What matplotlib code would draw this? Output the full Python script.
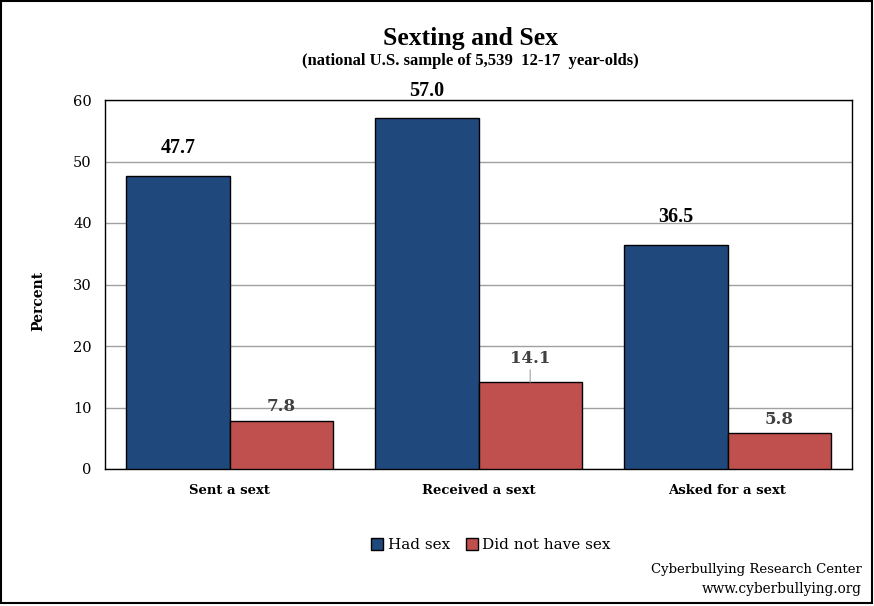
import matplotlib
matplotlib.use("Agg")
import matplotlib.pyplot as plt
from matplotlib.patches import Rectangle
import numpy as np

categories = ["Sent a sext", "Received a sext", "Asked for a sext"]
had_sex = [47.7, 57.0, 36.5]
no_sex = [7.8, 14.1, 5.8]
series_names = ["Had sex", "Did not have sex"]
yticks = [0, 10, 20, 30, 40, 50, 60]

BLUE = "#1F497D"
RED = "#C0504D"
SERIF = ["DejaVu Serif"]
LSERIF = ["Liberation Serif"]

fig = plt.figure(figsize=(8.74, 6.06), dpi=100)
W, H = 874, 606
ax = fig.add_axes([105 / W, 1 - 469 / H, 747 / W, 369 / H])

x = np.arange(len(categories))
bw = 0.415
b1 = ax.bar(x - bw / 2, had_sex, bw, color=BLUE, edgecolor="black", linewidth=1.0, zorder=3)
b2 = ax.bar(x + bw / 2, no_sex, bw, color=RED, edgecolor="black", linewidth=1.0, zorder=3)

ax.set_xlim(-0.5, 2.5)
ax.set_ylim(0, 60)
ax.set_yticks(yticks)
ax.set_yticklabels([str(v) for v in yticks], fontfamily=SERIF, fontsize=10.5)
ax.set_xticks(x)
ax.set_xticklabels(categories, fontfamily=SERIF, fontsize=9.5, fontweight="bold")
ax.tick_params(axis="both", length=0)
ax.tick_params(axis="y", pad=9.5)
ax.tick_params(axis="x", pad=10.5)
ax.grid(axis="y", color="#A0A0A0", linewidth=1.0, zorder=0)
for s in ax.spines.values():
    s.set_color("black")
    s.set_linewidth(1.0)

fig.text(38 / W, 1 - 301 / H, "Percent", rotation=90, ha="center", va="center",
         fontfamily=SERIF, fontsize=10, fontweight="bold")

# value labels
for i, v in enumerate(had_sex):
    ax.annotate(f"{v:.1f}", (x[i] - bw / 2, v), xytext=(0, 20), textcoords="offset points",
                ha="center", va="center", fontfamily=LSERIF, fontsize=14.5, fontweight="bold",
                color="black", annotation_clip=False)
for i, v in enumerate(no_sex):
    if i == 1:
        ax.annotate(f"{v:.1f}", (x[i] + bw / 2, v), xytext=(0, 11), textcoords="offset points",
                    ha="center", va="bottom", fontfamily=SERIF, fontsize=12, fontweight="bold",
                    color="#404040",
                    arrowprops=dict(arrowstyle="-", color="#A0A0A0", lw=0.8, shrinkA=0, shrinkB=0))
    else:
        ax.annotate(f"{v:.1f}", (x[i] + bw / 2, v), xytext=(0, 4), textcoords="offset points",
                    ha="center", va="bottom", fontfamily=SERIF, fontsize=12, fontweight="bold",
                    color="#404040")

fig.text(470 / W, 1 - 38 / H, "Sexting and Sex", ha="center", va="center",
         fontfamily=LSERIF, fontsize=18.5, fontweight="bold")
fig.text(470 / W, 1 - 61 / H, "(national U.S. sample of 5,539  12-17  year-olds)", ha="center", va="center",
         fontfamily=LSERIF, fontsize=12, fontweight="bold")

leg = fig.legend([b1, b2], series_names, loc="center", bbox_to_anchor=(491 / W, 1 - 545 / H),
                 ncol=2, frameon=False, prop={"family": SERIF, "size": 11},
                 handlelength=0.8, handleheight=0.8, handletextpad=0.3, columnspacing=1.0)

fig.text(862 / W, 1 - 570 / H, "Cyberbullying Research Center", ha="right", va="center",
         fontfamily=SERIF, fontsize=9.5)
fig.text(862 / W, 1 - 589 / H, "www.cyberbullying.org", ha="right", va="center",
         fontfamily=SERIF, fontsize=9.8)

fig.patches.append(Rectangle((1 / W, 3 / H), 871 / W, 602 / H, transform=fig.transFigure,
                             fill=False, edgecolor="black", linewidth=1.5))

fig.savefig("out.png", dpi=100)
